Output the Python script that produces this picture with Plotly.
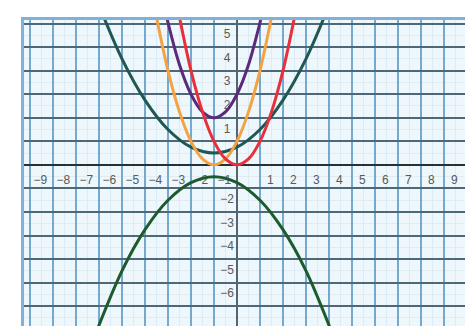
import plotly.graph_objects as go

# parabolas
red_x = [-2.6, -2, -1.5, -1, -0.5, 0, 0.5, 1, 1.5, 2, 2.6]
red_y = [6.76, 4, 2.25, 1, 0.25, 0, 0.25, 1, 2.25, 4, 6.76]

orange_x = [-3.6, -3, -2.5, -2, -1.5, -1, -0.5, 0, 0.5, 1, 1.6]
orange_y = [6.76, 4, 2.25, 1, 0.25, 0, 0.25, 1, 2.25, 4, 6.76]

purple_x = [-3.2, -2.5, -2, -1.5, -1, -0.5, 0, 0.5, 1.2]
purple_y = [6.84, 4.25, 3, 2.25, 2, 2.25, 3, 4.25, 6.84]

teal_x = [-6.2, -5, -4, -3, -2, -1, 0, 1, 2, 3, 4.2]
teal_y = [7.26, 4.5, 2.75, 1.5, 0.75, 0.5, 0.75, 1.5, 2.75, 4.5, 7.26]

green_x = [-6.5, -5, -4, -3, -2, -1, 0, 1, 2, 3, 4.5]
green_y = [-8.06, -4.5, -2.75, -1.5, -0.75, -0.5, -0.75, -1.5, -2.75, -4.5, -8.06]

x_ticks = [-9, -8, -7, -6, -5, -4, -3, -2, -1, 1, 2, 3, 4, 5, 6, 7, 8, 9]
y_ticks = [5, 4, 3, 2, 1, -2, -3, -4, -5, -6]

fig = go.Figure()

# axis numbers sit half a cell off the gridlines
fig.add_trace(go.Scatter(
    x=[t + 0.45 for t in x_ticks], y=[-0.68] * len(x_ticks),
    mode='text', text=[str(t).replace('-', '\u2212') for t in x_ticks],
    textfont=dict(family='Liberation Sans', size=12, color='#5a5a5a'),
    hoverinfo='skip'))
fig.add_trace(go.Scatter(
    x=[-0.43] * len(y_ticks), y=[t + 0.5 for t in y_ticks],
    mode='text', text=[str(t).replace('-', '\u2212') for t in y_ticks],
    textfont=dict(family='Liberation Sans', size=12, color='#5a5a5a'),
    hoverinfo='skip'))

curves = [
    (teal_x, teal_y, '#1f5752'),
    (green_x, green_y, '#1d5a2c'),
    (orange_x, orange_y, '#f4a343'),
    (purple_x, purple_y, '#5b2a7a'),
    (red_x, red_y, '#e8303c'),
]
for cx, cy, col in curves:
    fig.add_trace(go.Scatter(
        x=cx, y=cy, mode='lines',
        line=dict(color=col, width=3, shape='spline'),
        hoverinfo='skip'))

# page body adds 8px margin, so shrink the figure by that much
fig.update_layout(
    width=465, height=318,
    margin=dict(l=16, r=1, t=12, b=0),
    paper_bgcolor='white',
    plot_bgcolor='#eef7fc',
    showlegend=False,
)
fig.update_xaxes(
    range=[-9.26, 10.13], dtick=1, showticklabels=False, ticks='',
    showgrid=True, gridcolor='#74aad0', gridwidth=1.5,
    minor=dict(dtick=0.5, showgrid=True, gridcolor='#dbecf6', gridwidth=1),
    zeroline=True, zerolinecolor='#556670', zerolinewidth=1.5,
    showline=True, mirror=True, linecolor='#7fb2d8', linewidth=3,
)
fig.update_yaxes(
    range=[-6.84, 6.15], dtick=1, showticklabels=False, ticks='',
    showgrid=True, gridcolor='#4f6878', gridwidth=1.5,
    minor=dict(dtick=0.5, showgrid=True, gridcolor='#e0ecf2', gridwidth=1),
    zeroline=True, zerolinecolor='#2a2f33', zerolinewidth=1.5,
    showline=True, mirror=True, linecolor='#7fb2d8', linewidth=3,
)

fig.write_html("out.html")
